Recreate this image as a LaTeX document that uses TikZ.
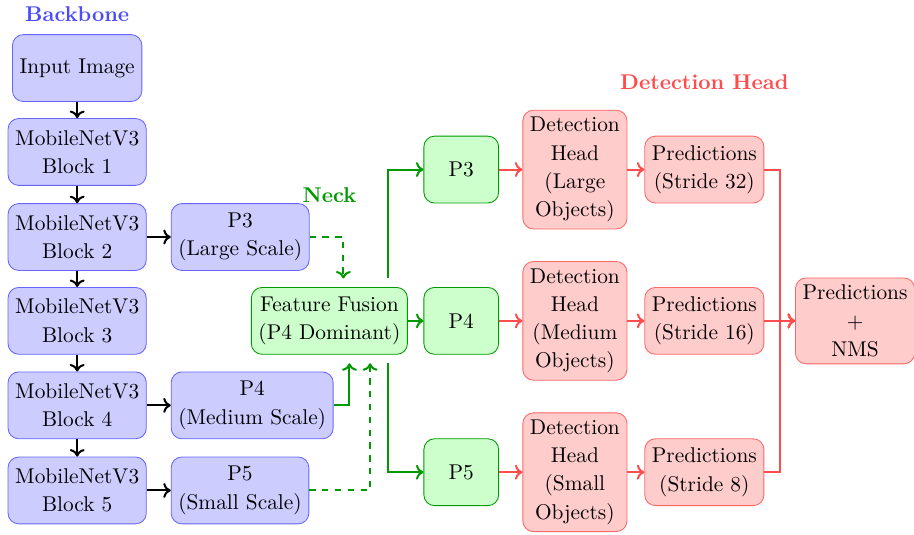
\documentclass[tikz,border=0pt]{standalone}
\usepackage{tikz}
\usetikzlibrary{arrows.meta}

\begin{document}
\begin{tikzpicture}[
  x=1cm,y=1cm,
  bbone/.style={draw=blue!60, fill=blue!20, rounded corners=5pt, align=center, minimum height=1.1cm, font=\linespread{1.1}\selectfont},
  neckbox/.style={draw=green!60!black, fill=green!20, rounded corners=5pt, align=center, minimum height=1.1cm, font=\linespread{1.1}\selectfont},
  headbox/.style={draw=red!60, fill=red!20, rounded corners=5pt, align=center, minimum height=1.1cm, font=\linespread{1.1}\selectfont},
  ttl/.style={font=\bfseries},
  arr/.style={-{To[length=3.5pt,width=7pt]}, line width=0.95pt},
  garr/.style={arr, green!60!black},
  redarr/.style={arr, red!70}
]
\useasboundingbox (0,0) rectangle (15.04,-8.79);
% backbone
\node[ttl, text=blue!70] (bbt) at (1.27,-0.23) {Backbone};
\node[bbone] (img) at (1.27,-1.12) {Input Image};
\node[bbone] (b1) at (1.27,-2.50) {MobileNetV3\\Block 1};
\node[bbone] (b2) at (1.27,-3.90) {MobileNetV3\\Block 2};
\node[bbone] (b3) at (1.27,-5.28) {MobileNetV3\\Block 3};
\node[bbone] (b4) at (1.27,-6.67) {MobileNetV3\\Block 4};
\node[bbone] (b5) at (1.27,-8.07) {MobileNetV3\\Block 5};
\node[bbone, anchor=west] (sc3) at (2.81,-3.90) {P3\\(Large Scale)};
\node[bbone, anchor=west] (sc4) at (2.81,-6.67) {P4\\(Medium Scale)};
\node[bbone, anchor=west] (sc5) at (2.81,-8.07) {P5\\(Small Scale)};
% neck
\node[ttl, text=green!60!black] (neckt) at (5.42,-3.21) {Neck};
\node[neckbox] (fuse) at (5.42,-5.28) {Feature Fusion\\(P4 Dominant)};
\node[neckbox, minimum width=1.23cm] (g3) at (7.59,-2.79) {P3};
\node[neckbox, minimum width=1.23cm] (g4) at (7.59,-5.28) {P4};
\node[neckbox, minimum width=1.23cm] (g5) at (7.59,-7.77) {P5};
% head
\node[ttl, text=red!70] (headt) at (11.59,-1.35) {Detection Head};
\node[headbox] (dh3) at (9.46,-2.79) {Detection\\Head\\(Large\\Objects)};
\node[headbox] (dh4) at (9.46,-5.28) {Detection\\Head\\(Medium\\Objects)};
\node[headbox] (dh5) at (9.46,-7.77) {Detection\\Head\\(Small\\Objects)};
\node[headbox] (pr3) at (11.59,-2.79) {Predictions\\(Stride 32)};
\node[headbox] (pr4) at (11.59,-5.28) {Predictions\\(Stride 16)};
\node[headbox] (pr5) at (11.59,-7.77) {Predictions\\(Stride 8)};
\node[headbox] (nms) at (14.07,-5.28) {Predictions\\+\\NMS};
% connections
\foreach \a/\b in {img/b1,b1/b2,b2/b3,b3/b4,b4/b5,b2/sc3,b4/sc4,b5/sc5}{\draw[arr] (\a) -- (\b);}
\draw[garr, dashed, shorten >=4pt] (sc3.east) -| ([xshift=0.23cm]fuse.north);
\draw[garr, shorten >=4pt] (sc4.east) -| ([xshift=0.33cm]fuse.south);
\draw[garr, dashed, shorten >=4pt] (sc5.east) -| ([xshift=0.67cm]fuse.south);
\draw[garr, shorten <=4pt] ([xshift=0.97cm]fuse.north) |- (g3.west);
\draw[garr] (fuse) -- (g4);
\draw[garr, shorten <=4pt] ([xshift=0.97cm]fuse.south) |- (g5.west);
\foreach \s in {3,4,5}{\draw[redarr] (g\s) -- (dh\s); \draw[redarr] (dh\s) -- (pr\s);}
\draw[redarr] (pr3.east) -- ++(0.26,0) |- (nms.west);
\draw[redarr] (pr4) -- (nms);
\draw[redarr] (pr5.east) -- ++(0.26,0) |- (nms.west);
\end{tikzpicture}
\end{document}
